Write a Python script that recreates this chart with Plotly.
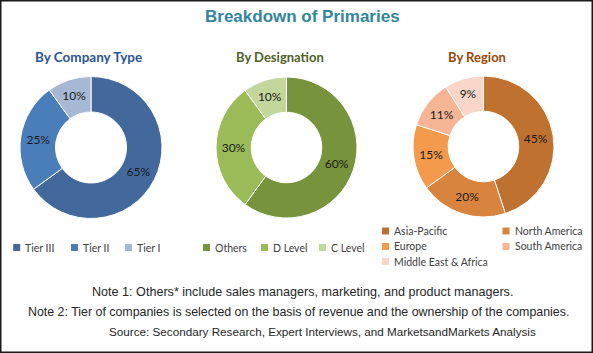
import plotly.graph_objects as go

# ---------------- data ----------------
title_text = "Breakdown of Primaries"

company_title = "By Company Type"
company_labels = ["Tier III", "Tier II", "Tier I"]
company_values = [65, 25, 10]

designation_title = "By Designation"
designation_labels = ["Others", "D Level", "C Level"]
designation_values = [60, 30, 10]

region_title = "By Region"
region_labels = ["Asia-Pacific", "North America", "Europe", "South America", "Middle East & Africa"]
region_values = [45, 20, 15, 11, 9]

notes = [
    "Note 1: Others* include sales managers, marketing, and product managers.",
    "Note 2: Tier of companies is selected on the basis of revenue and the ownership of the companies.",
    "Source: Secondary Research, Expert Interviews, and MarketsandMarkets Analysis",
]

# ---------------- styles / layout ----------------
W, H = 593, 353

company_colors = ["#43699C", "#4A7EBB", "#A7B8D4"]
designation_colors = ["#77933C", "#9BBB59", "#C3D69B"]
region_colors = ["#BF722F", "#D9843E", "#F49A4C", "#F6B595", "#F9D6C9"]

title_color = "#31859C"
sub_colors = ["#2B5592", "#4F6228", "#984807"]

LEG_FONT = dict(family="Lato", size=10.5, color="#404040")


def px(x):
    return x / W


def py(y):
    return 1 - y / H


# pie geometry: (center x, center y, radius) in pixels
pie_geo = [(91, 147.5, 71), (286.5, 147.5, 70.5), (483.5, 146.5, 70.5)]
sub_pos = [(88.5, 57.5), (279.5, 57.5), (476.5, 57.5)]
sub_sizes = [13.5, 13, 13]
# legend square centers in pixels
leg_pos = [
    [(16.7, 247.5), (74.5, 247.5), (128.5, 247.5)],
    [(206.5, 247.5), (264.5, 247.5), (322.5, 247.5)],
    [(385.5, 231), (506, 231), (385.5, 246.5), (506, 246.5), (385.5, 261.5)],
]
note_pos = [(302.5, 292), (298.5, 312), (322, 331)]
note_sizes = [12.6, 12.4, 11.7]

groups = [
    (company_title, company_labels, company_values, company_colors),
    (designation_title, designation_labels, designation_values, designation_colors),
    (region_title, region_labels, region_values, region_colors),
]

fig = go.Figure()
annotations = []
shapes = []

annotations.append(dict(
    text=title_text, x=px(302.5), y=py(16), xref="paper", yref="paper",
    xanchor="center", yanchor="middle", showarrow=False,
    font=dict(family="Liberation Sans", size=17, color=title_color, weight="bold"),
))

for i, (sub, labels, values, colors) in enumerate(groups):
    cx, cy, r = pie_geo[i]
    fig.add_trace(go.Pie(
        labels=labels, values=values,
        marker=dict(colors=colors, line=dict(color="white", width=1)),
        hole=0.5, sort=False, direction="clockwise", rotation=0,
        texttemplate="%{value}%", textposition="inside",
        insidetextorientation="horizontal",
        textfont=dict(family="Lato", size=12, color="#1a1a1a"),
        domain=dict(x=[px(cx - r), px(cx + r)], y=[py(cy + r), py(cy - r)]),
        showlegend=False, hoverinfo="label+percent",
    ))
    sx, sy = sub_pos[i]
    annotations.append(dict(
        text=sub, x=px(sx), y=py(sy), xref="paper", yref="paper",
        xanchor="center", yanchor="middle", showarrow=False,
        font=dict(family="Lato", size=sub_sizes[i], color=sub_colors[i], weight="bold"),
    ))
    for (lx, ly), lab, col in zip(leg_pos[i], labels, colors):
        shapes.append(dict(
            type="rect", xref="paper", yref="paper",
            xsizemode="pixel", ysizemode="pixel",
            xanchor=px(lx), yanchor=py(ly),
            x0=-3.5, x1=3.5, y0=-3.5, y1=3.5,
            fillcolor=col, line=dict(width=0),
        ))
        annotations.append(dict(
            text=lab, x=px(lx + 6.5), y=py(ly), xref="paper", yref="paper",
            xanchor="left", yanchor="middle", showarrow=False,
            font=LEG_FONT,
        ))

for (nx, ny), t, fs in zip(note_pos, notes, note_sizes):
    annotations.append(dict(
        text=t, x=px(nx), y=py(ny), xref="paper", yref="paper",
        xanchor="center", yanchor="middle", showarrow=False,
        font=dict(family="Liberation Sans", size=fs, color="#262626"),
    ))

# outer border
shapes.append(dict(type="rect", xref="paper", yref="paper", x0=0, x1=1, y0=0, y1=1,
                   line=dict(color="#1a1a1a", width=3), fillcolor="rgba(0,0,0,0)"))

fig.update_layout(
    width=W, height=H, autosize=False,
    margin=dict(l=0, r=0, t=0, b=0),
    paper_bgcolor="white", plot_bgcolor="white",
    annotations=annotations, shapes=shapes,
    showlegend=False,
)

fig.write_html("out.html")
